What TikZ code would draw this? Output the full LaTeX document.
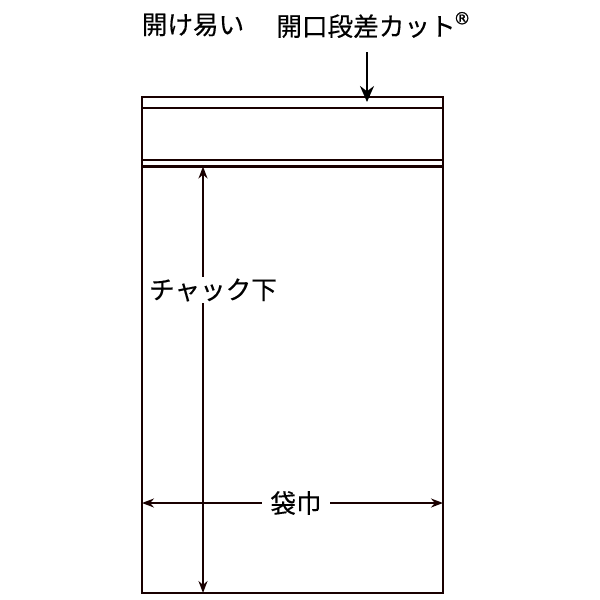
\documentclass[tikz,border=0pt]{standalone}
\usepackage{fontspec}
\newfontfamily\cjk[FakeBold=0.35]{Noto Sans CJK JP}
\newfontfamily\regf[FakeBold=1.2]{DejaVu Sans}
\usetikzlibrary{arrows.meta}
\begin{document}
\begin{tikzpicture}[x=0.5pt,y=-0.5pt,
  bag/.style={line width=1.1pt,draw=black!90!red},
  dim/.style={line width=0.9pt,draw=black!90!red,{Stealth[length=6pt,width=4.5pt]}-{Stealth[length=6pt,width=4.5pt]}},
  lbl/.style={font=\cjk\fontsize{12.8pt}{14pt}\selectfont,inner sep=1pt,fill=white}]
\useasboundingbox (0,0) rectangle (600,600);
\draw[bag] (142,97) rectangle (443,593);
\draw[bag] (142,108) -- (443,108);
\draw[bag] (142,160) -- (443,160);
\draw[bag] (142,166.5) -- (443,166.5);
\coordinate (ztop) at (203,166.5);
\coordinate (zbot) at (203,593);
\coordinate (wl) at (142,503);
\coordinate (wr) at (443,503);
\draw[dim] (ztop) -- (zbot);
\draw[dim] (wl) -- (wr);
\node[lbl] (chk) at (213,290) {チャック下};
\node[lbl,inner xsep=4pt] (fw) at (296,503) {袋巾};
\node[lbl,fill=none] (t1) at (193,25) {開け易い};
\node[lbl,fill=none,anchor=west] (t2) at (274,25) {開口段差カット\kern-1pt\raisebox{0.45em}{\regf\fontsize{8.5pt}{9pt}\selectfont ®}};
\coordinate (as) at (367,52);
\coordinate (ae) at (367,102);
\draw[line width=1pt,-{Stealth[length=8pt,width=7pt]}] (as) -- (ae);
\end{tikzpicture}
\end{document}
